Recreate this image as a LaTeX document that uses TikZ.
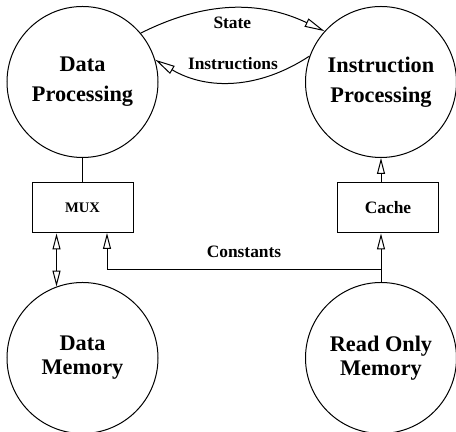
\documentclass[tikz,border=0pt]{standalone}
\usepackage{fontspec}
\setmainfont{Liberation Serif}
\usepackage{tikz}
\usetikzlibrary{arrows.meta}

\begin{document}
\begin{tikzpicture}[x=0.5pt,y=0.5pt,line width=0.5pt,
    unit/.style={circle,draw,minimum size=75.5pt,inner sep=0pt,align=center,
      font=\bfseries\fontsize{11.15}{15}\selectfont},
    store/.style={unit,font=\bfseries\fontsize{11.15}{12}\selectfont},
    box/.style={draw,minimum width=50.5pt,minimum height=25pt,inner sep=0pt,
      font=\bfseries\fontsize{8.7}{10}\selectfont},
    lbl/.style={inner sep=0pt,font=\bfseries\fontsize{8.7}{10}\selectfont},
    arr/.style={-{Triangle[open,length=8pt,width=4pt]}},
    bigarr/.style={-{Triangle[open,length=10pt,width=4.5pt]}}]
  \useasboundingbox (0,0) rectangle (456,432);
  % processing units and memories
  \node[unit] (DP) at (82.5,350) {Data\\Processing};
  \node[unit] (IP) at (381,350) {Instruction\\Processing};
  \node[store] (DM) at (82.5,74) {Data\\Memory};
  \node[store] (ROM) at (381,74) {Read Only\\Memory};
  % boxes in between
  \node[box,font=\bfseries\fontsize{7.3}{9}\selectfont] (MUX) at (82.5,224) {MUX};
  \node[box] (Cache) at (388,224) {Cache};
  % links between the two processors
  \draw[bigarr] (DP.40) to[bend left=26]
    node[lbl,midway,below=4pt] {State} (IP.138);
  \draw[bigarr] (IP.160) to[bend left=32]
    node[lbl,midway,above=6pt] {Instructions} (DP.17);
  % data side
  \draw (DP.south) -- (MUX.north);
  \draw[{Triangle[open,length=8pt,width=4pt]}-{Triangle[open,length=8pt,width=4pt]}]
    (DM.110 |- MUX.south) -- (DM.110);
  % instruction side, constants go over to the MUX
  \coordinate (junc) at (381,162);
  \coordinate (kin) at (107,199);
  \draw (ROM.north) -- (junc);
  \draw[arr] (junc) -- (junc |- Cache.south);
  \draw[arr] (junc) -| node[lbl,pos=0.25,above=6pt] {Constants} (kin);
  \draw[arr] (IP.south |- Cache.north) -- (IP.south);
\end{tikzpicture}
\end{document}
